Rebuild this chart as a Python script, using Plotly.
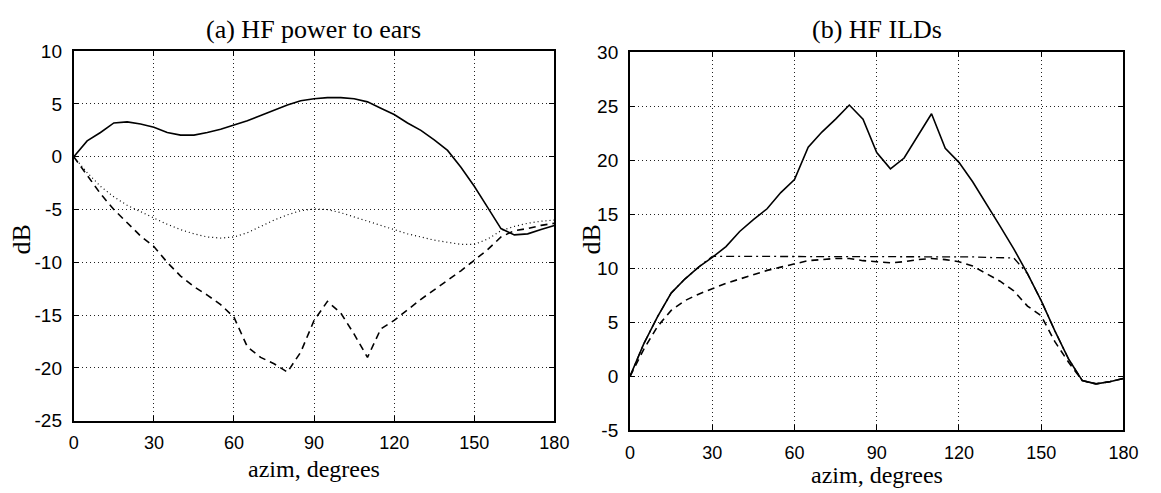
import plotly.graph_objects as go

# Azimuth samples (degrees), shared by every curve
azim = list(range(0, 185, 5))

# (a) HF power delivered to the ears, dB
power_solid = [0.0, 1.5, 2.3, 3.2, 3.3, 3.1, 2.8, 2.3, 2.05, 2.05, 2.3, 2.6, 3.0,
               3.4, 3.9, 4.4, 4.9, 5.3, 5.5, 5.6, 5.6, 5.5, 5.2, 4.6, 4.0, 3.2,
               2.5, 1.6, 0.6, -1.0, -2.8, -4.8, -6.8, -7.4, -7.3, -6.9, -6.5]
power_dotted = [0.0, -1.5, -2.8, -3.8, -4.6, -5.2, -5.8, -6.4, -6.9, -7.3, -7.6,
                -7.7, -7.6, -7.2, -6.6, -6.0, -5.5, -5.1, -4.95, -5.0, -5.3, -5.7,
                -6.1, -6.5, -6.9, -7.3, -7.6, -7.9, -8.1, -8.3, -8.3, -7.8, -7.0,
                -6.6, -6.3, -6.1, -6.0]
power_dashed = [0.0, -1.8, -3.5, -5.0, -6.3, -7.5, -8.5, -10.0, -11.3, -12.3, -13.1,
                -14.0, -15.2, -18.0, -19.0, -19.6, -20.4, -18.5, -15.5, -13.7, -14.8,
                -16.8, -19.0, -16.3, -15.5, -14.5, -13.5, -12.6, -11.7, -10.8, -9.8,
                -8.8, -7.6, -7.0, -6.8, -6.5, -6.3]

# (b) HF interaural level differences, dB
ild_solid = [0.0, 3.0, 5.5, 7.7, 9.0, 10.1, 11.0, 12.0, 13.4, 14.5, 15.5, 17.0, 18.2,
             21.2, 22.6, 23.8, 25.1, 23.8, 20.7, 19.2, 20.2, 22.2, 24.3, 21.1, 19.8,
             18.0, 16.0, 13.9, 11.8, 9.5, 7.0, 4.2, 1.6, -0.4, -0.7, -0.5, -0.2]
ild_dashdot = [0.0, 3.0, 5.5, 7.7, 9.0, 10.1, 11.1, 11.1, 11.1, 11.1, 11.1, 11.1, 11.1,
               11.1, 11.1, 11.1, 11.1, 11.1, 11.1, 11.1, 11.1, 11.1, 11.1, 11.1, 11.1,
               11.05, 11.0, 11.0, 10.95, 9.5, 7.0, 4.2, 1.6, -0.4, -0.7, -0.5, -0.2]
ild_dashed = [0.0, 2.5, 4.6, 6.1, 7.0, 7.6, 8.1, 8.6, 9.0, 9.4, 9.8, 10.1, 10.4, 10.7,
              10.8, 10.9, 10.9, 10.7, 10.6, 10.5, 10.6, 10.8, 10.9, 10.8, 10.6, 10.2,
              9.5, 8.8, 7.9, 6.5, 5.6, 3.2, 1.3, -0.4, -0.7, -0.5, -0.2]

x_ticks = [0, 30, 60, 90, 120, 150, 180]
a_yticks = [10, 5, 0, -5, -10, -15, -20, -25]
b_yticks = [30, 25, 20, 15, 10, 5, 0, -5]

W, H = 1161, 493
serif = "Liberation Serif, Times New Roman, serif"
sans = "Liberation Sans, Arial, Helvetica, sans-serif"

fig = go.Figure()

def add(x, y, dash, width, xa, ya):
    fig.add_trace(go.Scatter(x=x, y=y, mode="lines", xaxis=xa, yaxis=ya,
                             line=dict(color="black", width=width, dash=dash),
                             showlegend=False, hoverinfo="skip"))

add(azim, power_solid, "solid", 1.6, "x", "y")
add(azim, power_dotted, "1px,3px", 1.2, "x", "y")
add(azim, power_dashed, "7px,5px", 1.6, "x", "y")

add(azim, ild_dashdot, "8px,4px,2px,4px", 1.3, "x2", "y2")
add(azim, ild_dashed, "7px,5px", 1.6, "x2", "y2")
add(azim, ild_solid, "solid", 1.6, "x2", "y2")

def px_x(p):
    return p / W

def px_y(p):
    return 1 - p / H

def labels(vals):
    # plain ASCII hyphen for negative values
    return [str(v) for v in vals]

axis_common = dict(
    showline=True, linecolor="black", linewidth=2, mirror="ticks",
    ticks="inside", ticklen=5, tickwidth=1, tickcolor="black",
    showgrid=True, gridcolor="#222222", gridwidth=1, griddash="1px,3px",
    zeroline=False, tickfont=dict(family=sans, size=19, color="black"),
)
x_font = dict(family=sans, size=18, color="black")

fig.update_layout(
    width=W, height=H,
    margin=dict(l=0, r=0, t=0, b=0),
    paper_bgcolor="white", plot_bgcolor="white",
    xaxis=dict(axis_common, domain=[px_x(70), px_x(559)], range=[0, 180],
               tickvals=x_ticks, ticktext=labels(x_ticks), anchor="y",
               ticklabelstandoff=5, tickfont=x_font),
    yaxis=dict(axis_common, domain=[px_y(429), px_y(43)], range=[-25, 10],
               tickvals=a_yticks, ticktext=labels(a_yticks), anchor="x",
               ticklabelstandoff=6),
    xaxis2=dict(axis_common, domain=[px_x(636), px_x(1138)], range=[0, 180],
                tickvals=x_ticks, ticktext=labels(x_ticks), anchor="y2",
                ticklabelstandoff=5, tickfont=x_font),
    yaxis2=dict(axis_common, domain=[px_y(439), px_y(44)], range=[-5, 30],
                tickvals=b_yticks, ticktext=labels(b_yticks), anchor="x2",
                ticklabelstandoff=6),
)

def note(text, x, y, size, angle=0):
    fig.add_annotation(text=text, x=px_x(x), y=px_y(y), xref="paper", yref="paper",
                       showarrow=False, textangle=angle, xanchor="center",
                       yanchor="middle", borderpad=0,
                       font=dict(family=serif, size=size, color="black"))

note("(a) HF power to ears", 314, 20, 26)
note("(b) HF ILDs", 887, 20, 26)
note("azim, degrees", 314, 479, 24)
note("azim, degrees", 887, 486, 24)
note("dB", 17, 240, 26, -90)
note("dB", 597, 240, 26, -90)

fig.write_html("out.html")
